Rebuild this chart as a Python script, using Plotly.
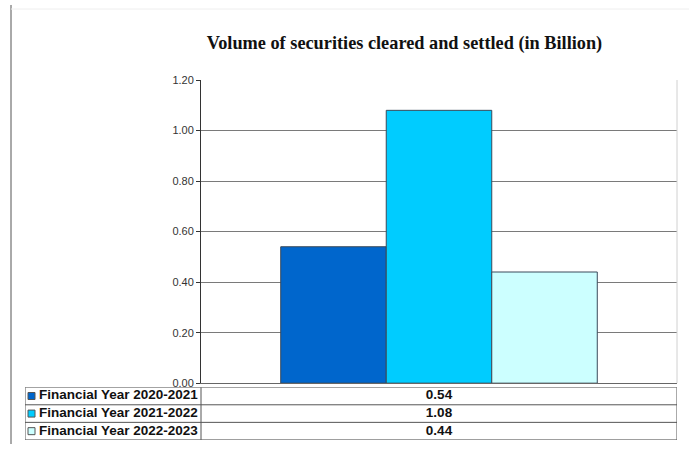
import plotly.graph_objects as go

# ---- data ----
title_text = "Volume of securities cleared and settled (in Billion)"
series_names = ["Financial Year 2020-2021", "Financial Year 2021-2022", "Financial Year 2022-2023"]
series_values = [0.54, 1.08, 0.44]
series_colors = ["#0066CC", "#00CCFF", "#CCFFFF"]
category = [""]
y_ticks = [0.0, 0.2, 0.4, 0.6, 0.8, 1.0, 1.2]

W, H = 689, 450
# layout constants (screen pixels)
plot_l, plot_r, plot_t, plot_b = 201, 677, 82, 381
tab_l, tab_r, tab_t, tab_b = 25, 677, 385, 437
col1_w = plot_l - tab_l
tab_w = tab_r - tab_l
n_rows = len(series_names)

# viewer maps figure y to screen roughly as s = 9 + 0.96*y (measured); compensate
Y_OFF, Y_SC = 9.0, 0.96
px = lambda v: v / W
py = lambda s: 1 - ((s - Y_OFF) / Y_SC) / H

font_fam = "Liberation Sans, Arial, sans-serif"

fig = go.Figure()

for name, val, col in zip(series_names, series_values, series_colors):
    fig.add_trace(go.Bar(
        x=category, y=[val], name=name,
        marker=dict(color=col, line=dict(color="#3a4a5a", width=1)),
        showlegend=False, hoverinfo="skip",
    ))

rows = [i + 0.5 for i in range(n_rows)]

# legend keys in the data table
fig.add_trace(go.Scatter(
    x=[6.5] * n_rows, y=rows, xaxis="x2", yaxis="y2", mode="markers",
    marker=dict(symbol="square", size=7, color=series_colors,
                line=dict(color="#555", width=1)),
    showlegend=False, hoverinfo="skip",
))
# series names
fig.add_trace(go.Scatter(
    x=[14] * n_rows, y=rows, xaxis="x2", yaxis="y2", mode="text",
    text=series_names, textposition="middle right",
    textfont=dict(family=font_fam, size=13.5, color="#111", weight="bold"),
    showlegend=False, hoverinfo="skip",
))
# values
fig.add_trace(go.Scatter(
    x=[(col1_w + tab_w) / 2] * n_rows, y=rows, xaxis="x2", yaxis="y2", mode="text",
    text=["%.2f" % v for v in series_values], textposition="middle center",
    textfont=dict(family=font_fam, size=13.5, color="#111", weight="bold"),
    showlegend=False, hoverinfo="skip",
))

grid_line = dict(color="#555", width=1)
shapes = []
for r in range(n_rows + 1):
    shapes.append(dict(type="line", xref="x2", yref="y2", x0=0, x1=tab_w, y0=r, y1=r,
                       line=grid_line))
for c in [0, col1_w, tab_w]:
    shapes.append(dict(type="line", xref="x2", yref="y2", x0=c, x1=c, y0=0, y1=n_rows,
                       line=grid_line))
shapes += [
    dict(type="line", xref="paper", yref="paper", x0=px(11), x1=px(11),
         y0=py(8), y1=0, line=dict(color="#555", width=1)),
    dict(type="line", xref="paper", yref="paper", x0=px(11), x1=1,
         y0=py(12), y1=py(12), line=dict(color="#eeeeee", width=1)),
    dict(type="line", xref="paper", yref="paper", x0=px(plot_r), x1=px(plot_r),
         y0=py(plot_t), y1=py(plot_b), line=dict(color="#d0d0d0", width=1)),
]

fig.update_layout(
    width=W, height=H, autosize=False,
    margin=dict(l=0, r=0, t=0, b=0),
    paper_bgcolor="white", plot_bgcolor="white",
    barmode="group", bargap=0.335, bargroupgap=0,
    title=dict(text=title_text, x=0.587, xanchor="center",
               y=py(50), yanchor="middle",
               font=dict(family="Liberation Serif, Times New Roman, serif", size=18.3,
                         color="#111", weight="bold")),
    xaxis=dict(domain=[px(plot_l), px(plot_r)], range=[-0.5, 0.5],
               showticklabels=False, ticks="", showgrid=False, fixedrange=True,
               showline=True, linecolor="#666", linewidth=1, zeroline=False),
    yaxis=dict(domain=[py(plot_b), py(plot_t)], range=[0, 1.2], fixedrange=True,
               tickvals=y_ticks, tickformat=".2f",
               ticks="outside", ticklen=4, tickcolor="#333",
               showline=True, linecolor="#333", linewidth=1,
               showgrid=True, gridcolor="#7a7a7a", gridwidth=1, zeroline=False,
               tickfont=dict(family=font_fam, size=11, color="#333")),
    xaxis2=dict(domain=[px(tab_l), px(tab_r)], range=[0, tab_w],
                visible=False, anchor="y2", fixedrange=True),
    yaxis2=dict(domain=[py(tab_b), py(tab_t)], range=[n_rows, 0],
                visible=False, anchor="x2", fixedrange=True),
    shapes=shapes,
)

fig.write_html("out.html", config={"displayModeBar": False, "responsive": False},
               post_script="document.body.style.margin='0px';document.body.style.overflow='hidden';")
